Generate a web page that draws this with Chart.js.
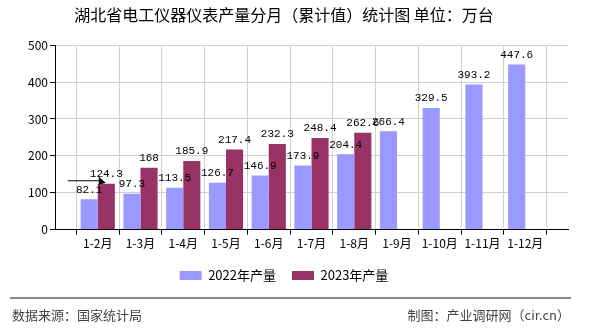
<!DOCTYPE html>
<html>
<head>
<meta charset="utf-8">
<script src="https://cdn.jsdelivr.net/npm/chart.js@4.4.0/dist/chart.umd.min.js"></script>
<style>
  body { margin: 0; background: #fff; }
  #wrap { position: relative; width: 590px; height: 330px; font-family: "Noto Sans CJK SC", sans-serif; }
  #footLine { position: absolute; left: 10px; top: 297px; width: 561px; height: 0; border-top: 2px solid #888; }
  .foot { position: absolute; top: 306px; font-size: 13px; color: #444; line-height: 18px; }
</style>
</head>
<body>
<div id="wrap">
  <canvas id="chart" width="590" height="330"></canvas>
  <div id="footLine"></div>
  <div class="foot" style="left:12px">数据来源：国家统计局</div>
  <div class="foot" style="right:20px">制图：产业调研网（cir.cn）</div>
</div>
<script>
// months on the x axis
var categories = ['1-2月', '1-3月', '1-4月', '1-5月', '1-6月', '1-7月', '1-8月', '1-9月', '1-10月', '1-11月', '1-12月'];
// production, cumulative (万台)
var output2022 = [82.1, 97.3, 113.5, 126.7, 146.9, 173.9, 204.4, 266.4, 329.5, 393.2, 447.6];
var output2023 = [124.3, 168, 185.9, 217.4, 232.3, 248.4, 262.6, null, null, null, null];
var yTicks = [0, 100, 200, 300, 400, 500];

// labels sit on the grid lines, so pad an empty slot on each side
var labels = [''].concat(categories, ['']);
function pad(arr) { return [null].concat(arr, [null]); }

var valueLabels = {
    id: 'valueLabels',
    afterDatasetsDraw: function (chart) {
        var ctx = chart.ctx;
        ctx.save();
        ctx.font = '11px "Liberation Mono", monospace';
        ctx.fillStyle = '#000';
        ctx.textAlign = 'center';
        ctx.textBaseline = 'bottom';
        chart.data.datasets.forEach(function (ds, i) {
            chart.getDatasetMeta(i).data.forEach(function (bar, j) {
                var v = ds.data[j];
                if (v === null || v === undefined) return;
                ctx.fillText(String(v), bar.x, bar.y - 4);
            });
        });
        // the little leader arrow near the first group
        var x1 = chart.scales.x.getPixelForValue(1);
        var y1 = chart.scales.y.getPixelForValue(output2023[0]);
        ctx.strokeStyle = '#000';
        ctx.lineWidth = 1;
        ctx.beginPath();
        ctx.moveTo(x1 - 30, y1 - 3);
        ctx.lineTo(x1 + 5, y1 - 3);
        ctx.stroke();
        ctx.beginPath();
        ctx.moveTo(x1 + 8, y1 - 1);
        ctx.lineTo(x1 + 1, y1 - 7);
        ctx.lineTo(x1 + 1, y1 + 1);
        ctx.closePath();
        ctx.fillStyle = '#000';
        ctx.fill();
        ctx.restore();
    }
};

var ctx = document.getElementById('chart').getContext('2d');
new Chart(ctx, {
    type: 'bar',
    data: {
        labels: labels,
        datasets: [{
            label: '2022年产量',
            data: pad(output2022),
            backgroundColor: '#9999ff',
            categoryPercentage: 0.8,
            barPercentage: 1.0
        }, {
            label: '2023年产量',
            data: pad(output2023),
            backgroundColor: '#993366',
            categoryPercentage: 0.8,
            barPercentage: 1.0
        }]
    },
    options: {
        responsive: false,
        animation: false,
        layout: { padding: { left: 0, right: 22, top: 0, bottom: 38 } },
        plugins: {
            title: {
                display: true,
                text: '湖北省电工仪器仪表产量分月（累计值）统计图 单位：万台',
                color: '#000',
                font: { size: 16, family: '"Noto Sans CJK SC", sans-serif', weight: 'normal' },
                padding: { top: 5, bottom: 21 }
            },
            legend: {
                position: 'bottom',
                labels: {
                    boxWidth: 22,
                    boxHeight: 9,
                    padding: 16,
                    color: '#000',
                    font: { size: 13, family: '"Noto Sans CJK SC", sans-serif' }
                }
            },
            tooltip: { enabled: false }
        },
        scales: {
            x: {
                offset: false,
                grid: { color: '#d0d0d0', tickColor: '#000', tickLength: 5 },
                border: { color: '#000', width: 1 },
                ticks: {
                    color: '#000',
                    autoSkip: false,
                    maxRotation: 0,
                    padding: 2,
                    font: { size: 12, family: '"Noto Sans CJK SC", sans-serif' }
                }
            },
            y: {
                min: 0,
                max: 500,
                afterBuildTicks: function (axis) {
                    axis.ticks = yTicks.map(function (v) { return { value: v }; });
                },
                afterFit: function (axis) { axis.width = 55; },
                grid: { color: '#d0d0d0', tickColor: '#000', tickLength: 5 },
                border: { color: '#000', width: 1 },
                ticks: {
                    color: '#000',
                    padding: 2,
                    font: { size: 12, family: '"Noto Sans CJK SC", sans-serif' }
                }
            }
        }
    },
    plugins: [valueLabels]
});
</script>
</body>
</html>
